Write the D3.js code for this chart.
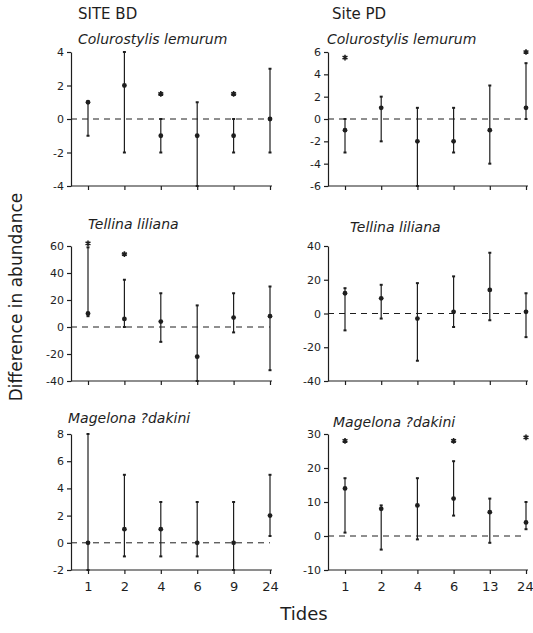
<!DOCTYPE html>
<html><head><meta charset="utf-8">
<script src="https://cdn.jsdelivr.net/npm/d3@7"></script>
<style>
body{margin:0;background:#fff;}
svg{display:block;font-family:"DejaVu Sans",sans-serif;}
</style></head>
<body><svg id="c" width="533" height="633"></svg>
<script>
// ---- data ----
const tidesBD = ["1","2","4","6","9","24"];
const tidesPD = ["1","2","4","6","13","24"];

const colBDMean = [1, 2, -1, -1, -1, 0];
const colBDLow  = [-1, -2, -2, -4, -2, -2];
const colBDHigh = [1, 4, 0, 1, 0, 3];
const colBDStar = [null, null, 1.5, null, 1.5, null];

const colPDMean = [-1, 1, -2, -2, -1, 1];
const colPDLow  = [-3, -2, -6, -3, -4, 0];
const colPDHigh = [0, 2, 1, 1, 3, 5];
const colPDStar = [5.5, null, null, null, null, 6];

const telBDMean = [10, 6, 4, -22, 7, 8];
const telBDLow  = [8, 0, -11, -40, -4, -32];
const telBDHigh = [59, 35, 25, 16, 25, 30];
const telBDStar = [62, 54, null, null, null, null];

const telPDMean = [12, 9, -3, 1, 14, 1];
const telPDLow  = [-10, -3, -28, -8, -4, -14];
const telPDHigh = [15, 17, 18, 22, 36, 12];
const telPDStar = [null, null, null, null, null, null];

const magBDMean = [0, 1, 1, 0, 0, 2];
const magBDLow  = [-2, -1, -1, -1, -2, 0.5];
const magBDHigh = [8, 5, 3, 3, 3, 5];
const magBDStar = [null, null, null, null, null, null];

const magPDMean = [14, 8, 9, 11, 7, 4];
const magPDLow  = [1, -4, -1, 6, -2, 2];
const magPDHigh = [17, 9, 17, 22, 11, 10];
const magPDStar = [28, null, null, 28, null, 29];

const titlesLeft = ["Colurostylis lemurum", "Tellina liliana", "Magelona ?dakini"];
const titlesRight = ["Colurostylis lemurum", "Tellina liliana", "Magelona ?dakini"];
const siteLabels = ["SITE BD", "Site PD"];

// ---- layout ----
const svg = d3.select("#c");
const ink = "#1e1e1e";

const cols = [
  {axisX: 71, x0: 88, x1: 270, cats: tidesBD},
  {axisX: 328, x0: 345, x1: 526, cats: tidesPD}
];
const rows = [
  {top: 52, bottom: 186},
  {top: 246, bottom: 381},
  {top: 434, bottom: 570}
];

const panels = [
  {r:0,c:0, dom:[-4,4], step:2, mean:colBDMean, low:colBDLow, high:colBDHigh, star:colBDStar, title:titlesLeft[0], tx:78, ty:44},
  {r:0,c:1, dom:[-6,6], step:2, mean:colPDMean, low:colPDLow, high:colPDHigh, star:colPDStar, title:titlesRight[0], tx:327, ty:44},
  {r:1,c:0, dom:[-40,60], step:20, mean:telBDMean, low:telBDLow, high:telBDHigh, star:telBDStar, title:titlesLeft[1], tx:88, ty:229},
  {r:1,c:1, dom:[-40,40], step:20, mean:telPDMean, low:telPDLow, high:telPDHigh, star:telPDStar, title:titlesRight[1], tx:350, ty:232},
  {r:2,c:0, dom:[-2,8], step:2, mean:magBDMean, low:magBDLow, high:magBDHigh, star:magBDStar, title:titlesLeft[2], tx:68, ty:423},
  {r:2,c:1, dom:[-10,30], step:10, mean:magPDMean, low:magPDLow, high:magPDHigh, star:magPDStar, title:titlesRight[2], tx:333, ty:427}
];

const star = d3.symbol().type(d3.symbolAsterisk).size(22);

panels.forEach(p => {
  const col = cols[p.c], row = rows[p.r];
  const x = d3.scalePoint().domain(col.cats).range([col.x0, col.x1]);
  const y = d3.scaleLinear().domain(p.dom).range([row.bottom, row.top]);
  const g = svg.append("g");

  // y axis
  const ticks = d3.range(p.dom[0], p.dom[1] + p.step/2, p.step);
  const ya = g.append("g").attr("transform", `translate(${col.axisX},0)`)
    .call(d3.axisLeft(y).tickValues(ticks).tickSize(4).tickPadding(3).tickSizeOuter(0).tickFormat(d => String(d)));
  ya.selectAll("text").attr("font-size", 11).attr("fill", ink).attr("font-family", "DejaVu Sans");
  ya.selectAll("line,path").attr("stroke", ink).attr("stroke-width", 1.2);

  // x axis
  const xa = g.append("g").attr("transform", `translate(0,${row.bottom})`)
    .call(d3.axisBottom(x).tickSize(4).tickPadding(8).tickSizeOuter(0));
  xa.select(".domain").remove();
  xa.selectAll("line").attr("stroke", ink).attr("stroke-width", 1.2);
  xa.selectAll("text").attr("font-size", 13).attr("fill", ink).attr("font-family", "DejaVu Sans");
  if (p.c === 1) xa.selectAll("text").filter(d => d === "24").attr("text-anchor", "end").attr("dx", "0.55em");
  if (p.r !== 2) xa.selectAll("text").remove();
  g.append("line").attr("x1", col.axisX).attr("x2", col.x1 + 2)
    .attr("y1", row.bottom).attr("y2", row.bottom).attr("stroke", ink).attr("stroke-width", 1.2);

  // zero line
  g.append("line").attr("x1", col.axisX).attr("x2", col.x1)
    .attr("y1", y(0)).attr("y2", y(0)).attr("stroke", ink).attr("stroke-width", 1)
    .attr("stroke-dasharray", "6,5");

  // error bars
  const idx = d3.range(col.cats.length);
  g.selectAll(".bar").data(idx).join("line")
    .attr("x1", i => x(col.cats[i])).attr("x2", i => x(col.cats[i]))
    .attr("y1", i => y(p.low[i])).attr("y2", i => y(p.high[i]))
    .attr("stroke", ink).attr("stroke-width", 1.2);
  ["low", "high"].forEach(k => {
    g.selectAll(".cap" + k).data(idx).join("line")
      .attr("x1", i => x(col.cats[i]) - 1.5).attr("x2", i => x(col.cats[i]) + 1.5)
      .attr("y1", i => y(p[k][i])).attr("y2", i => y(p[k][i]))
      .attr("stroke", ink).attr("stroke-width", 2);
  });
  g.selectAll(".mean").data(idx).join("circle")
    .attr("cx", i => x(col.cats[i])).attr("cy", i => y(p.mean[i]))
    .attr("r", 2.4).attr("fill", ink);
  g.selectAll(".star").data(idx.filter(i => p.star[i] != null)).join("path")
    .attr("d", star)
    .attr("transform", i => `translate(${x(col.cats[i])},${y(p.star[i])})`)
    .attr("stroke", ink).attr("stroke-width", 1.6).attr("fill", "none");

  // title
  svg.append("text").attr("x", p.tx).attr("y", p.ty)
    .attr("font-size", 14).attr("font-style", "italic").attr("fill", ink)
    .text(p.title);
});

// site labels
svg.append("text").attr("x", 78).attr("y", 19).attr("font-size", 15).attr("fill", ink).text(siteLabels[0]);
svg.append("text").attr("x", 332).attr("y", 19).attr("font-size", 15).attr("fill", ink).text(siteLabels[1]);

// axis titles
svg.append("text").attr("x", 304).attr("y", 620).attr("text-anchor", "middle")
  .attr("font-size", 18).attr("fill", ink).text("Tides");
svg.append("text").attr("transform", "translate(22,297) rotate(-90)").attr("text-anchor", "middle")
  .attr("font-size", 17).attr("fill", ink).text("Difference in abundance");
</script></body></html>
